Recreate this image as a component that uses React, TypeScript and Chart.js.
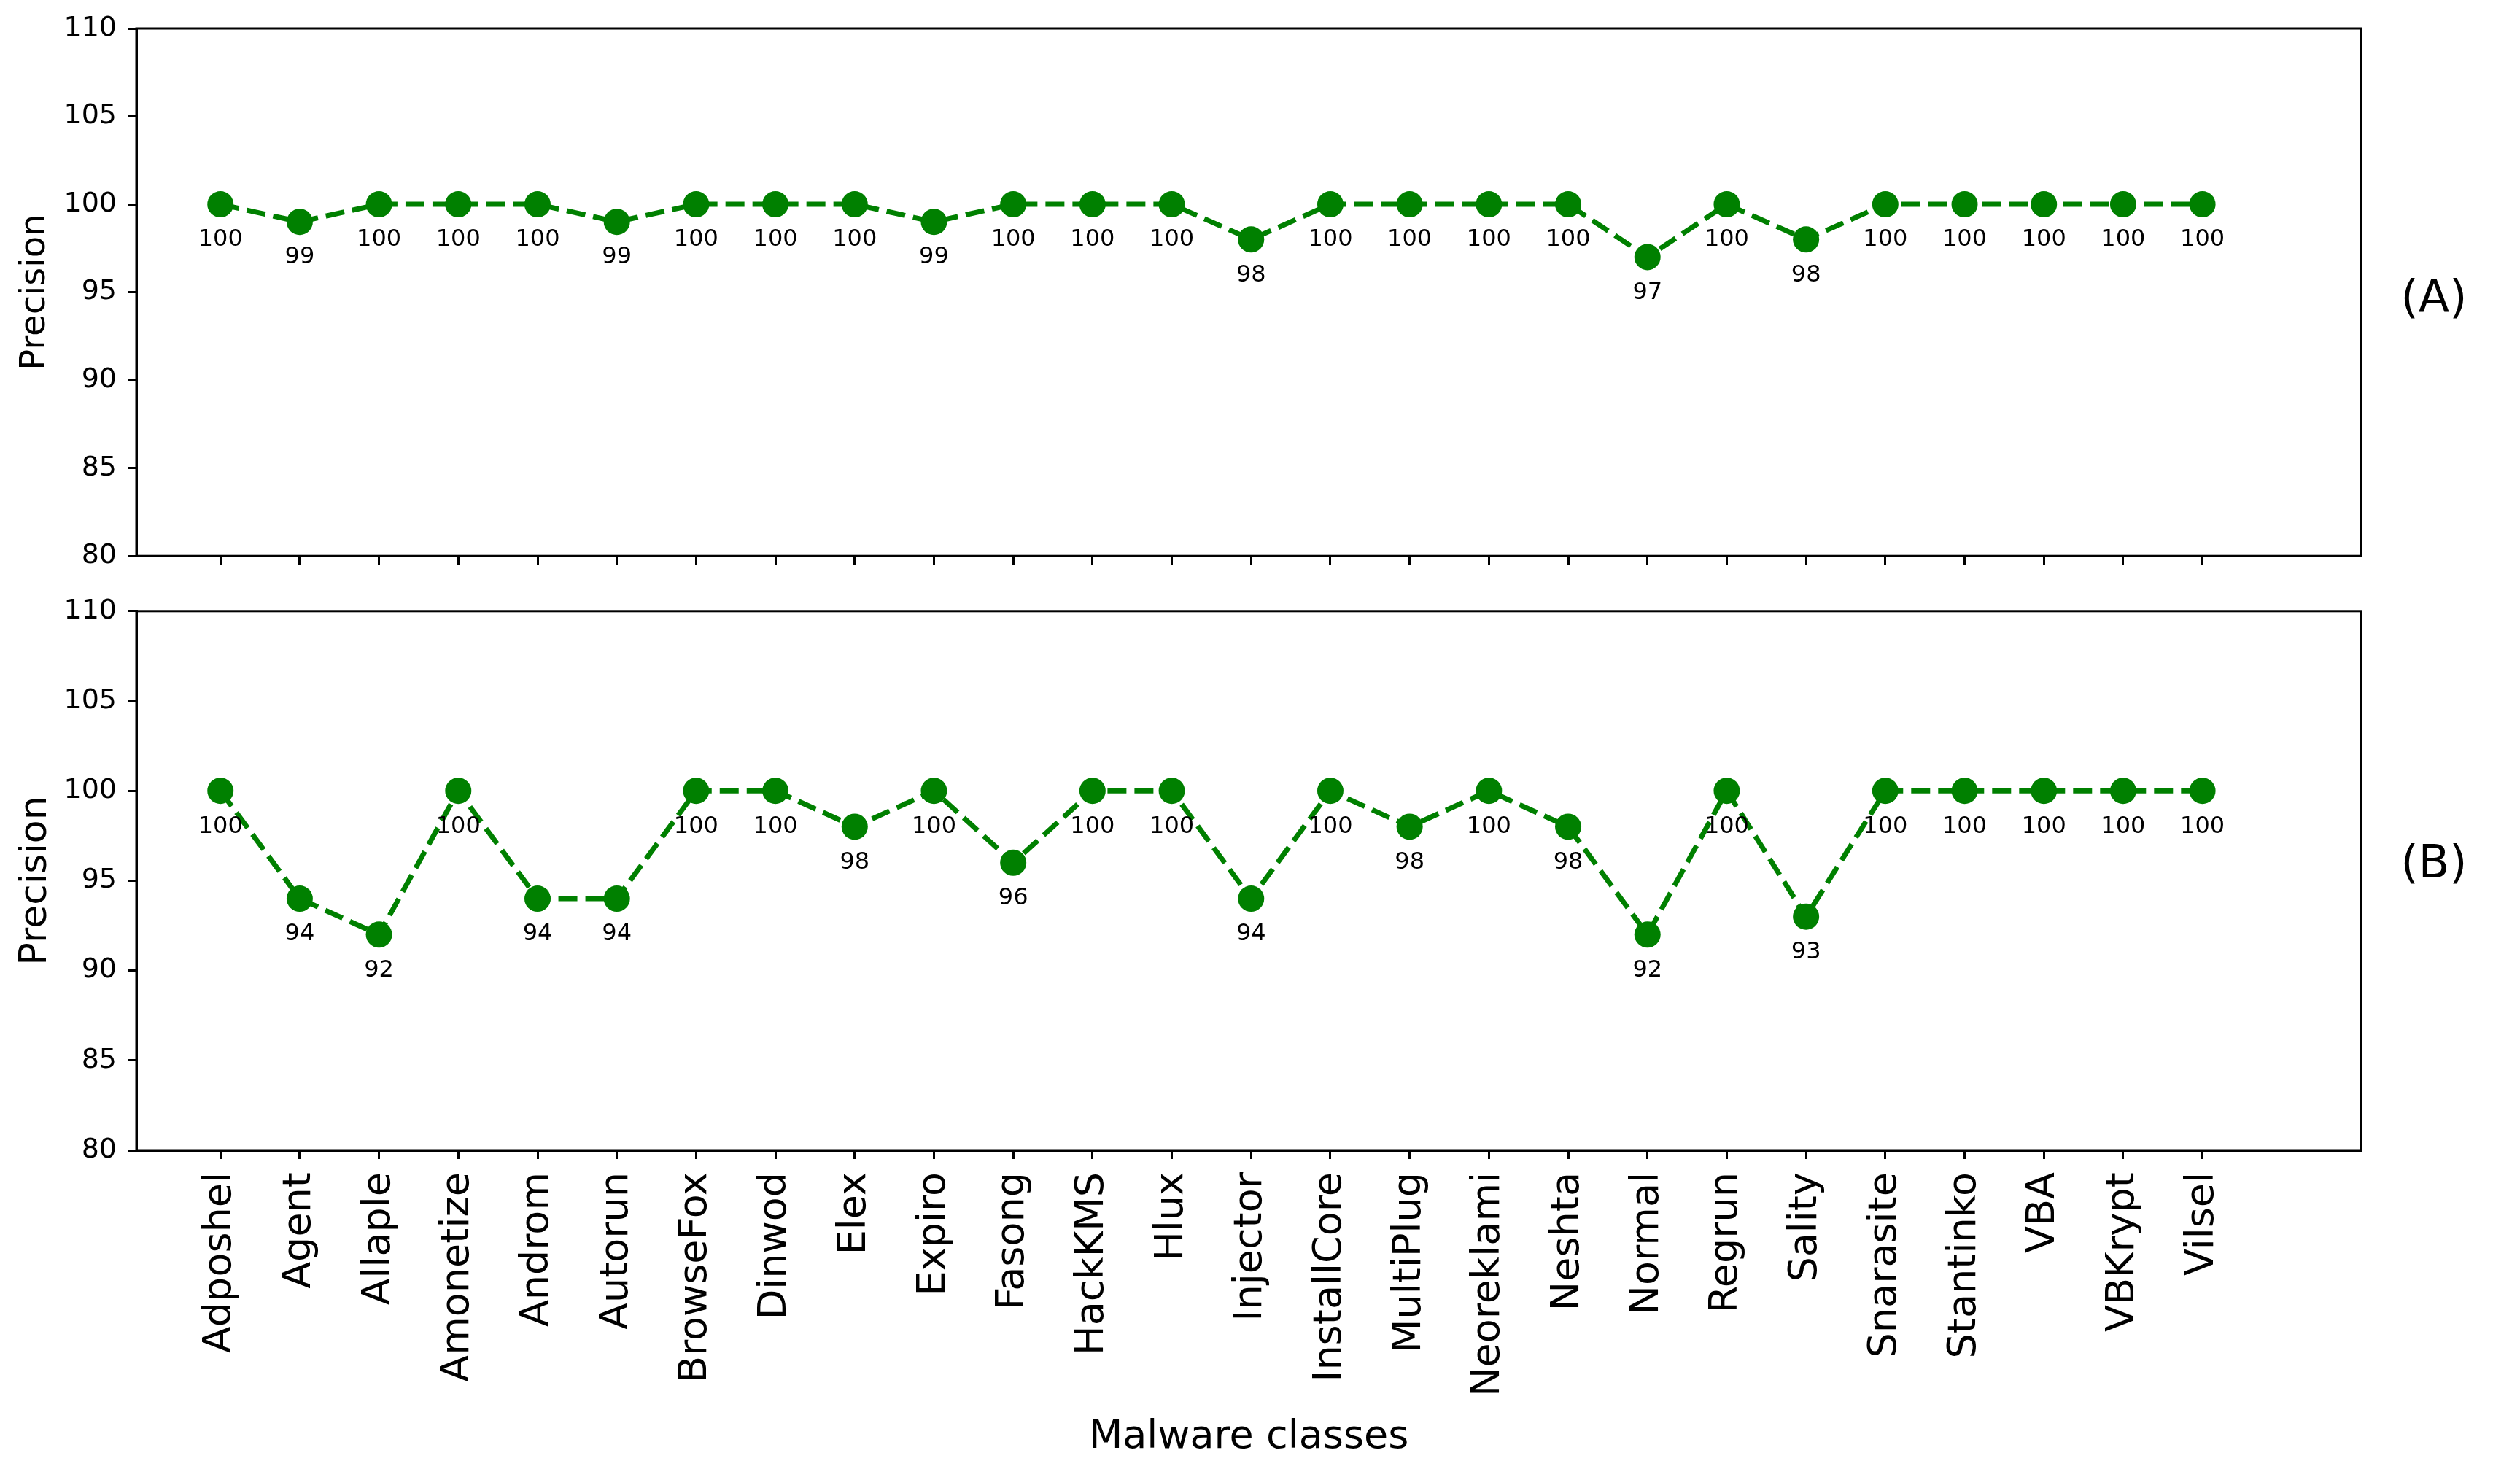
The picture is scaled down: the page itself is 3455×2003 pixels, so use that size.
import React, { useEffect, useRef } from "react";
import { Chart, registerables } from "chart.js";

Chart.register(...registerables);

const categories = [
  "Adposhel", "Agent", "Allaple", "Amonetize", "Androm", "Autorun", "BrowseFox",
  "Dinwod", "Elex", "Expiro", "Fasong", "HackKMS", "Hlux", "Injector", "InstallCore",
  "MultiPlug", "Neoreklami", "Neshta", "Normal", "Regrun", "Sality", "Snarasite",
  "Stantinko", "VBA", "VBKrypt", "Vilsel",
];

const precisionA = [
  100, 99, 100, 100, 100, 99, 100, 100, 100, 99, 100, 100, 100, 98, 100,
  100, 100, 100, 97, 100, 98, 100, 100, 100, 100, 100,
];

const precisionB = [
  100, 94, 92, 100, 94, 94, 100, 100, 98, 100, 96, 100, 100, 94, 100,
  98, 100, 98, 92, 100, 93, 100, 100, 100, 100, 100,
];

const yMin = 80;
const yMax = 110;
const yStep = 5;
const xMin = -1.06;
const xMax = 27;

const FONT = "'DejaVu Sans', 'Liberation Sans', sans-serif";
const GREEN = "#008000";
const W = 3455;

const framePlugin = {
  id: "frameBox",
  afterDraw(chart: any) {
    const { ctx, chartArea: a } = chart;
    ctx.save();
    ctx.strokeStyle = "#000";
    ctx.lineWidth = 3;
    ctx.strokeRect(a.left, a.top, a.right - a.left, a.bottom - a.top);
    ctx.restore();
  },
};

const valueLabelPlugin = {
  id: "valueLabels",
  afterDatasetsDraw(chart: any) {
    const { ctx } = chart;
    const meta = chart.getDatasetMeta(0);
    const data = chart.data.datasets[0].data as any[];
    ctx.save();
    ctx.font = `32px ${FONT}`;
    ctx.fillStyle = "#000";
    ctx.textAlign = "center";
    ctx.textBaseline = "middle";
    meta.data.forEach((pt: any, i: number) => {
      ctx.fillText(String(data[i].y), pt.x, pt.y + 49);
    });
    ctx.restore();
  },
};

type PanelProps = {
  values: number[];
  height: number;
  top: number;
  areaTop: number;
  areaBottom: number;
  showXLabels: boolean;
  yTitleSize: number;
};

function Panel({ values, height, top, areaTop, areaBottom, showXLabels, yTitleSize }: PanelProps) {
  const ref = useRef<HTMLCanvasElement | null>(null);

  useEffect(() => {
    if (!ref.current) return;
    const xHeight = height - areaBottom;
    const chart = new Chart(ref.current, {
      type: "line",
      data: {
        datasets: [
          {
            data: values.map((v, i) => ({ x: i, y: v })),
            borderColor: GREEN,
            backgroundColor: GREEN,
            borderWidth: 7,
            borderDash: [26, 11],
            pointRadius: 18,
            pointHoverRadius: 18,
            pointBackgroundColor: GREEN,
            pointBorderColor: GREEN,
            pointBorderWidth: 0,
            tension: 0,
            fill: false,
          },
        ],
      },
      options: {
        animation: false,
        responsive: false,
        maintainAspectRatio: false,
        events: [],
        layout: { padding: { left: 0, right: W - 3237, top: areaTop, bottom: 0 } },
        plugins: {
          legend: { display: false },
          tooltip: { enabled: false },
          title: { display: false },
        },
        scales: {
          x: {
            type: "linear",
            min: xMin,
            max: xMax,
            afterBuildTicks: (scale: any) => {
              scale.ticks = categories.map((_, i) => ({ value: i }));
            },
            afterFit: (scale: any) => {
              scale.height = xHeight;
            },
            grid: {
              display: true,
              drawOnChartArea: false,
              drawTicks: true,
              tickLength: 12,
              tickWidth: 3,
              tickColor: "#000",
              color: "#000",
            },
            border: { display: true, color: "#000", width: 3 },
            ticks: {
              display: showXLabels,
              autoSkip: false,
              minRotation: 90,
              maxRotation: 90,
              padding: 18,
              color: "#000",
              font: { family: FONT, size: 54 },
              callback: (v: any) => categories[Number(v)] ?? "",
            },
            title: {
              display: showXLabels,
              text: "Malware classes",
              color: "#000",
              font: { family: FONT, size: 54 },
              padding: { top: 0, bottom: 0 },
            },
          },
          y: {
            type: "linear",
            min: yMin,
            max: yMax,
            afterFit: (scale: any) => {
              scale.width = 187;
            },
            grid: {
              display: true,
              drawOnChartArea: false,
              drawTicks: true,
              tickLength: 12,
              tickWidth: 3,
              tickColor: "#000",
              color: "#000",
            },
            border: { display: true, color: "#000", width: 3 },
            ticks: {
              stepSize: yStep,
              padding: 15,
              color: "#000",
              font: { family: FONT, size: 38 },
              callback: (v: any) => String(v),
            },
            title: {
              display: true,
              text: "Precision",
              color: "#000",
              font: { family: FONT, size: yTitleSize },
              padding: { top: 49 - yTitleSize * 0.6, bottom: 0 },
            },
          },
        },
      },
      plugins: [framePlugin, valueLabelPlugin],
    } as any);
    return () => chart.destroy();
  }, [values, height, areaTop, areaBottom, showXLabels, yTitleSize]);

  return (
    <canvas
      ref={ref}
      width={W}
      height={height}
      style={{ position: "absolute", left: 0, top, width: W, height }}
    />
  );
}

const panelLabel: React.CSSProperties = {
  position: "absolute",
  left: 3337,
  transform: "translate(-50%, -50%)",
  fontFamily: FONT,
  fontSize: 62,
  lineHeight: 1,
  color: "#000",
  whiteSpace: "nowrap",
};

export default function App() {
  return (
    <div
      style={{
        position: "fixed",
        left: 0,
        top: 0,
        width: W,
        height: 2003,
        overflow: "hidden",
        background: "#fff",
      }}
    >
      <Panel values={precisionA} height={800} top={0} areaTop={39} areaBottom={773} showXLabels={false} yTitleSize={48} />
      <Panel values={precisionB} height={1203} top={800} areaTop={35} areaBottom={777} showXLabels={true} yTitleSize={52} />
      <div style={{ ...panelLabel, top: 407 }}>(A)</div>
      <div style={{ ...panelLabel, top: 1182 }}>(B)</div>
    </div>
  );
}
